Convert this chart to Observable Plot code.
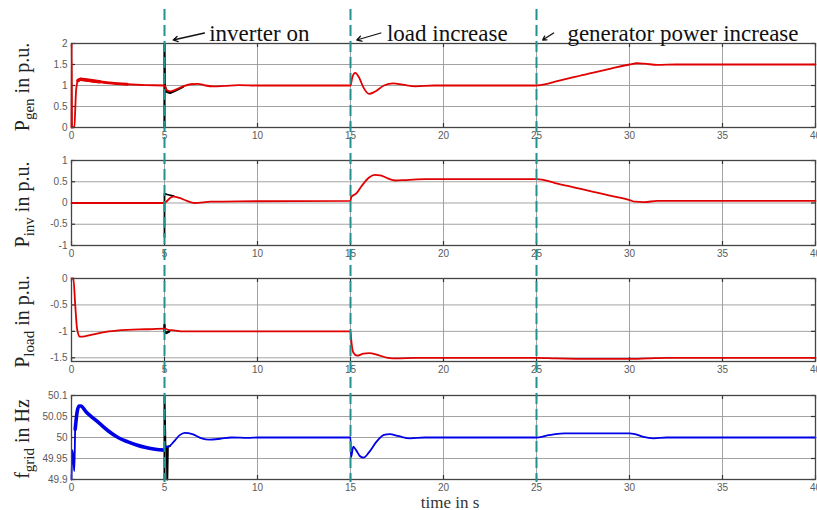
<!DOCTYPE html>
<html><head><meta charset="utf-8">
<script src="https://cdn.jsdelivr.net/npm/d3@7"></script>
<script src="https://cdn.jsdelivr.net/npm/@observablehq/plot@0.6"></script>
<style>
body{margin:0;background:#fff;overflow:hidden}
#wrap{position:relative;width:817px;height:510px;overflow:hidden}
#wrap svg{position:absolute;left:0}
</style>
</head><body><div id="wrap"></div>
<script>
// ---------- data ----------
const xTicks = [0,5,10,15,20,25,30,35,40];
const eventTimes = [5,15,25];
const eventLabels = ["inverter on","load increase","generator power increase"];
const xLabel = "time in s";

const pgenT = [0,0.01,0.03,0.15,0.25,0.35,0.5,0.8,1.5,2,3,4,5,5.1,5.3,5.6,6,6.4,6.8,7.2,7.6,8.2,9,10,15,15.1,15.25,15.45,15.7,16,16.3,16.8,17.3,17.8,18.5,19.5,25,25.5,26,27,28,29,30,30.4,30.8,31.5,32.5,40];
const pgenV = [0,2,0,0.02,0.9,1.12,1.15,1.13,1.09,1.06,1.03,1.01,1.0,0.9,0.86,0.9,0.98,1.03,1.04,1.0,0.98,0.99,1.01,1.0,1.0,1.2,1.3,1.2,0.95,0.8,0.85,1.0,1.05,1.02,0.98,1.0,1.0,1.03,1.09,1.2,1.3,1.4,1.5,1.53,1.52,1.49,1.5,1.5];
const pgenBlackT = [5,5,5.02,5.1,5.3,5.6,6];
const pgenBlackV = [0,2,1.0,0.85,0.82,0.88,0.97];

const pinvT = [0,5,5.1,5.3,5.5,5.8,6.2,6.6,7.5,9,15,15.05,15.3,15.6,16,16.3,16.6,17,17.4,18,19,25,25.3,26,27,28,29,30,30.3,30.8,31.5,40];
const pinvV = [0,0,0.03,0.12,0.15,0.12,0.05,0.0,0.03,0.04,0.05,0.15,0.22,0.4,0.6,0.66,0.65,0.58,0.53,0.54,0.56,0.56,0.55,0.47,0.37,0.27,0.17,0.07,0.03,0.02,0.05,0.05];
const pinvBlackT = [5,5,5.15,5.5];
const pinvBlackV = [-0.8,0.22,0.2,0.16];

const ploadT = [0,0.1,0.2,0.3,0.45,0.6,1,2,3,4,5,5.2,5.5,6,7,15,15.05,15.15,15.35,15.7,16,16.5,17,17.5,18.5,25,26,28,30,31,32,40];
const ploadV = [0,0,-0.5,-0.95,-1.1,-1.1,-1.07,-1.0,-0.97,-0.96,-0.95,-0.97,-0.98,-1.0,-1.0,-1.0,-1.2,-1.4,-1.46,-1.42,-1.41,-1.45,-1.5,-1.51,-1.5,-1.5,-1.51,-1.52,-1.52,-1.51,-1.5,-1.5];
const ploadBlackT = [5,5,5.1,5.25];
const ploadBlackV = [-0.88,-1.0,-1.03,-1.0];

const fgridT = [0,0.05,0.1,0.15,0.2,0.3,0.4,0.5,0.8,1.2,1.6,2,2.5,3,3.5,4,4.5,5,5.02,5.2,5.5,5.8,6.1,6.5,7,7.4,8,8.6,9.5,10,15,15.03,15.15,15.3,15.5,15.7,16,16.4,16.8,17.1,17.6,18.2,19,25,25.5,26,26.5,27,30,30.3,30.7,31.3,32,40];
const fgridV = [49.9,49.97,49.95,49.92,50.02,50.06,50.075,50.075,50.06,50.045,50.03,50.015,50.0,49.99,49.982,49.976,49.972,49.97,49.978,49.978,49.99,50.005,50.011,50.008,49.998,49.995,49.997,50.0,49.999,50.0,50.0,49.953,49.978,49.97,49.956,49.952,49.965,49.99,50.006,50.008,50.003,49.998,50.0,50.0,50.004,50.008,50.01,50.01,50.01,50.008,50.002,49.998,50.0,50.0];
const fgridBlackT = [5,5,5.05,5.12,5.15,5.18,5.3];
const fgridBlackV = [49.9,50.1,49.975,49.978,49.9,49.978,49.98];

// ---------- helpers ----------
const rows = (T, V) => T.map((t, i) => ({t, v: V[i]}));
const W = 817, ML = 71, MR = 2;
const wrap = document.getElementById("wrap");
const TEXTC = "#5a5a5a";

function panel(cfg) {
  const h = cfg.bottom - cfg.top, mt = 6, mb = 22;
  const [y0, y1] = cfg.domain;
  const ty = (y1 - y0) * 4 / h;      // 4px inward tick in y units
  const tx = 40 * 4 / (W - ML - MR); // 4px inward tick in x units
  const marks = [
    Plot.ruleY(cfg.yTicks, {stroke: "#999", strokeWidth: 0.9}),
    Plot.ruleX(xTicks, {stroke: "#999", strokeWidth: 0.9}),
    Plot.ruleX(xTicks, {y1: y0, y2: y0 + ty, stroke: "#333", strokeWidth: 1.2}),
    Plot.ruleX(xTicks, {y1: y1 - ty, y2: y1, stroke: "#333", strokeWidth: 1.2}),
    Plot.ruleY(cfg.yTicks, {x1: 0, x2: tx, stroke: "#333", strokeWidth: 1.2}),
    Plot.ruleY(cfg.yTicks, {x1: 40 - tx, x2: 40, stroke: "#333", strokeWidth: 1.2}),
    ...cfg.lines,
    Plot.frame({stroke: "#444", strokeWidth: 1.3}),
    Plot.axisX({ticks: xTicks, tickSize: 0, tickPadding: 4, fontSize: 10, fill: TEXTC, label: null, tickFormat: d => String(d)}),
    Plot.axisY({ticks: cfg.yTicks, tickSize: 0, tickPadding: 4, fontSize: 10, fill: TEXTC, label: null, tickFormat: d => String(d)})
  ];
  const chart = Plot.plot({
    width: W, height: h + mt + mb,
    marginLeft: ML, marginRight: MR, marginTop: mt, marginBottom: mb,
    x: {domain: [0, 40]},
    y: {domain: cfg.domain},
    style: {background: "transparent", overflow: "visible", fontFamily: "'Liberation Sans', Arial, sans-serif"},
    marks
  });
  chart.style.top = (cfg.top - mt) + "px";
  const svg = d3.select(chart);
  const t = svg.append("text")
    .attr("transform", `translate(29,${mt + h / 2 + 2}) rotate(-90)`)
    .attr("text-anchor", "middle")
    .style("font-family", "'Liberation Serif', 'Times New Roman', serif")
    .style("font-size", "20px").attr("fill", "#222");
  t.append("tspan").text(cfg.sym);
  t.append("tspan").attr("dy", 5).style("font-size", "15px").text(cfg.sub);
  t.append("tspan").attr("dy", -5).text(" " + cfg.unit);
  wrap.appendChild(chart);
}

const RED = "#e00000", BLUE = "#0000e6", BLK = "#000";
const pgen = rows(pgenT, pgenV), pinv = rows(pinvT, pinvV), pload = rows(ploadT, ploadV), fgrid = rows(fgridT, fgridV);

panel({top: 43, bottom: 127, domain: [0, 2], yTicks: [0, 0.5, 1, 1.5, 2], sym: "P", sub: "gen", unit: "in p.u.",
  lines: [
    Plot.line(rows(pgenBlackT, pgenBlackV), {x: "t", y: "v", stroke: BLK, strokeWidth: 2.2}),
    Plot.line(pgen, {x: "t", y: "v", stroke: RED, strokeWidth: 1.8, curve: "monotone-x"}),
    Plot.line(pgen.filter(d => d.t >= 0.3 && d.t <= 3), {x: "t", y: "v", stroke: RED, strokeWidth: 2.8, curve: "monotone-x"}),
    Plot.line(pgen.filter(d => d.t >= 0.3 && d.t <= 1.5), {x: "t", y: "v", stroke: RED, strokeWidth: 3.6, curve: "monotone-x"})
  ]});
panel({top: 160, bottom: 245, domain: [-1, 1], yTicks: [-1, -0.5, 0, 0.5, 1], sym: "P", sub: "inv", unit: "in p.u.",
  lines: [
    Plot.line(rows(pinvBlackT, pinvBlackV), {x: "t", y: "v", stroke: BLK, strokeWidth: 1.8}),
    Plot.line(pinv, {x: "t", y: "v", stroke: RED, strokeWidth: 1.8, curve: "monotone-x"})
  ]});
panel({top: 278, bottom: 361, domain: [-1.57, 0], yTicks: [-1.5, -1, -0.5, 0], sym: "P", sub: "load", unit: "in p.u.",
  lines: [
    Plot.line(rows(ploadBlackT, ploadBlackV), {x: "t", y: "v", stroke: BLK, strokeWidth: 2.5}),
    Plot.line(pload, {x: "t", y: "v", stroke: RED, strokeWidth: 1.8, curve: "monotone-x"})
  ]});
panel({top: 395, bottom: 479, domain: [49.9, 50.1], yTicks: [49.9, 49.95, 50, 50.05, 50.1], sym: "f", sub: "grid", unit: "in Hz",
  lines: [
    Plot.line(rows(fgridBlackT, fgridBlackV), {x: "t", y: "v", stroke: BLK, strokeWidth: 2}),
    Plot.line(fgrid, {x: "t", y: "v", stroke: BLUE, strokeWidth: 1.8, curve: "monotone-x"}),
    Plot.line(fgrid.filter(d => d.t >= 0.2 && d.t <= 5), {x: "t", y: "v", stroke: BLUE, strokeWidth: 3.6, curve: "monotone-x"})
  ]});

// ---------- overlay: event lines + annotations ----------
const textOffset = [2.4, 1.96, 1.66];
const arrowTail = [2.15, 1.63, 0.92];
const arrowHead = [0.47, 0.34, 0.33];
const ev = eventTimes.map((t, i) => ({t, label: eventLabels[i], tx: t + textOffset[i], ax1: t + arrowTail[i], ax2: t + arrowHead[i]}));

const overlay = Plot.plot({
  width: W, height: 510,
  marginLeft: ML, marginRight: MR, marginTop: 0, marginBottom: 0,
  x: {domain: [0, 40], axis: null},
  y: {domain: [0, 510], range: [0, 510], axis: null},
  style: {background: "transparent", overflow: "visible"},
  marks: [
    Plot.ruleX(ev, {x: "t", y1: 9, y2: 482, stroke: "#23918f", strokeWidth: 2, strokeDasharray: "11,5"}),
    Plot.text(ev, {x: "tx", y: 33, text: "label", textAnchor: "start", fontSize: 23, fill: "#111",
      fontFamily: "'Liberation Serif', 'Times New Roman', serif"}),
    Plot.arrow(ev, {x1: "ax1", y1: 32.5, x2: "ax2", y2: 39.5, stroke: "#111", strokeWidth: 1.3, headLength: 6, bend: 0}),
    Plot.text([xLabel], {x: 20.35, y: 502, text: d => d, fontSize: 17, fill: "#333",
      fontFamily: "'Liberation Serif', 'Times New Roman', serif"})
  ]
});
overlay.style.top = "0px";
wrap.appendChild(overlay);
</script>
</body></html>
